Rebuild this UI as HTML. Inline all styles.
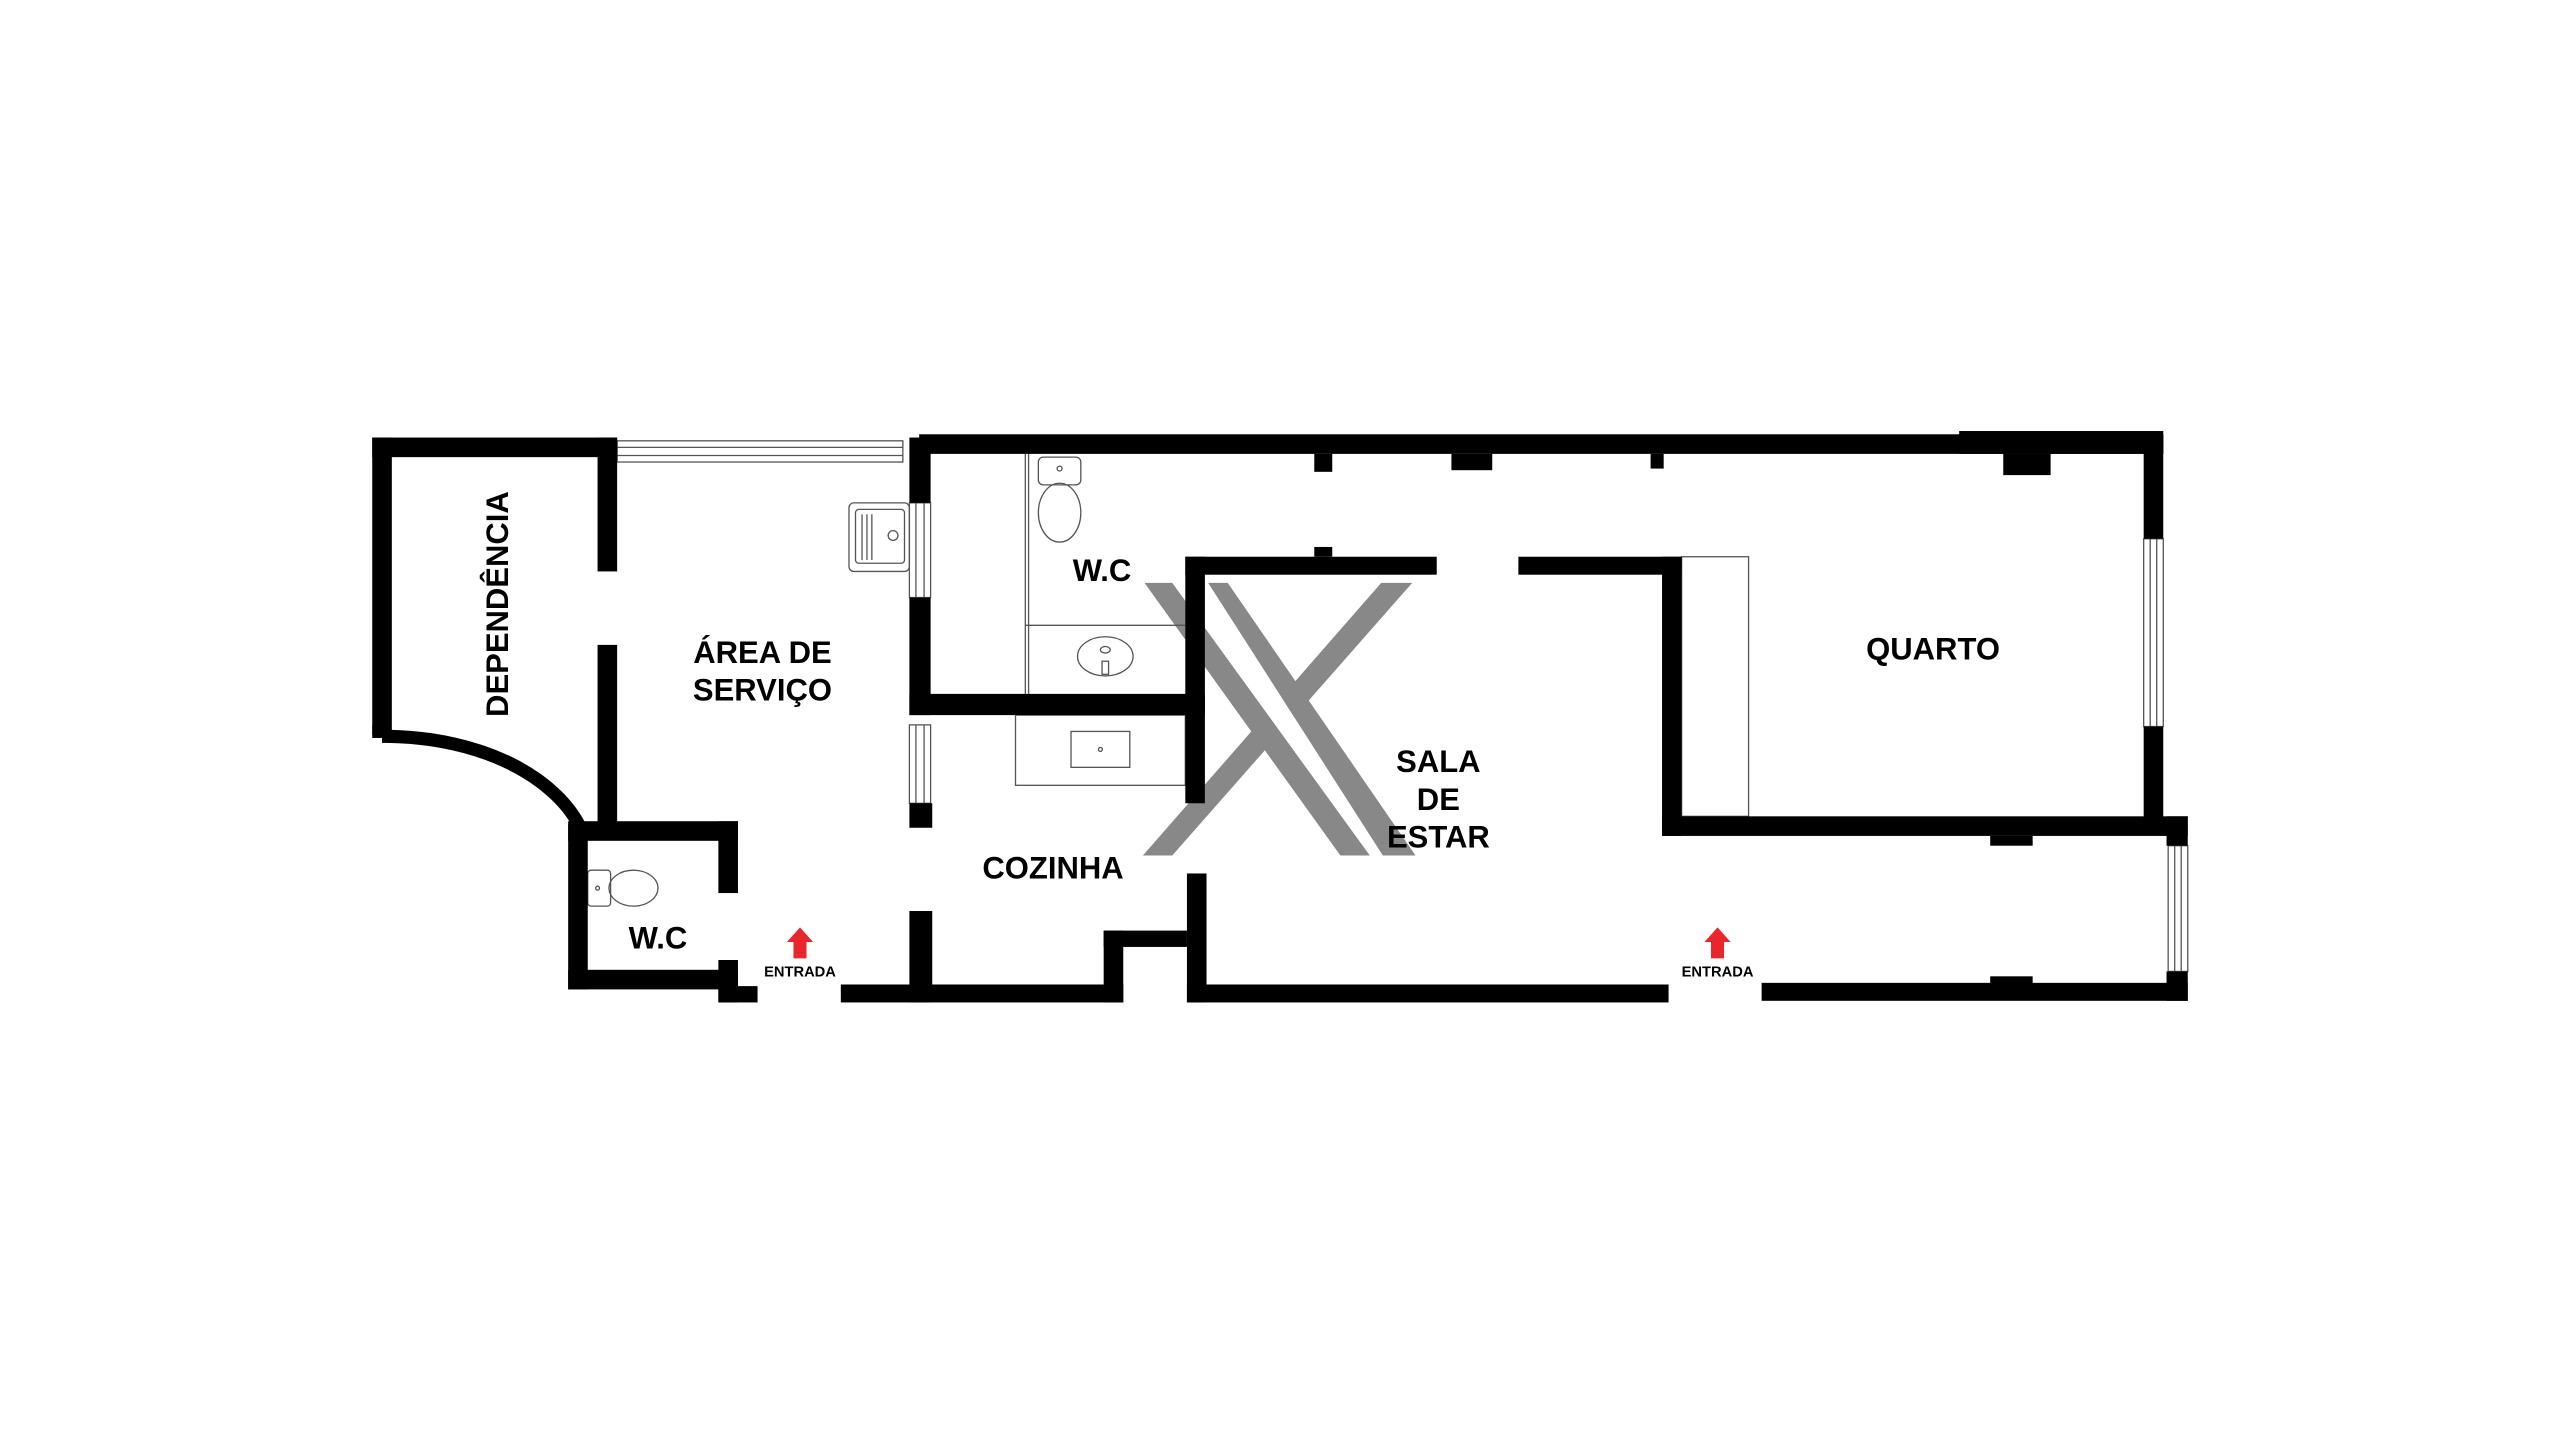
<!DOCTYPE html>
<html><head><meta charset="utf-8"><style>
html,body{margin:0;padding:0;background:#fff}
svg{display:block}
text{font-family:"Liberation Sans Narrow","Liberation Sans",sans-serif;font-weight:bold;fill:#000}
</style></head><body>
<svg width="2560" height="1440" viewBox="0 0 1568 882" xmlns="http://www.w3.org/2000/svg">
<rect width="1568" height="882" fill="#fff"/>
<!-- X watermark -->
<g fill="#888">
<polygon points="846,357 865,357 718,524 700,524"/>
<polygon points="718,357 740,357 847,524 821,524" fill="#fff"/>
<polygon points="701,357 718,357 839,524 821,524"/>
<polygon points="740,357 752,357 867,524 847,524"/>
</g>
<!-- thin fixtures -->
<g fill="none" stroke="#555" stroke-width="0.8">
<line x1="628" y1="278" x2="628" y2="425"/>
<line x1="630" y1="278" x2="630" y2="425"/>
<line x1="628" y1="383" x2="726" y2="383"/>
<rect x="622" y="438" width="104" height="43"/>
<rect x="656" y="448" width="36" height="22"/>
<circle cx="674" cy="459" r="1.2"/>
<rect x="636" y="280" width="26" height="17" rx="3"/>
<ellipse cx="649" cy="314" rx="13" ry="18"/>
<circle cx="649" cy="287" r="1.5"/>
<ellipse cx="677" cy="402" rx="17" ry="12"/>
<ellipse cx="677" cy="398" rx="3" ry="2"/>
<rect x="675" y="405" width="4" height="8"/>
<rect x="520" y="308" width="37" height="42" rx="3"/>
<rect x="524" y="312" width="30" height="33" rx="2"/>
<line x1="528" y1="315" x2="528" y2="343"/><line x1="531" y1="315" x2="531" y2="343"/><line x1="534" y1="315" x2="534" y2="343"/>
<circle cx="547" cy="328" r="3"/>
<rect x="360" y="533" width="14" height="22" rx="2"/>
<ellipse cx="388" cy="544" rx="15" ry="11"/>
<circle cx="366" cy="544" r="1.2"/>
<rect x="1030" y="341" width="41" height="159"/>
<!-- windows -->
<rect x="378" y="270" width="175" height="13"/>
<line x1="378" y1="274" x2="553" y2="274"/><line x1="378" y1="279" x2="553" y2="279"/>
<rect x="557" y="308" width="13" height="58"/>
<line x1="561" y1="308" x2="561" y2="366"/><line x1="566" y1="308" x2="566" y2="366"/>
<rect x="557" y="444" width="13" height="48"/>
<line x1="561" y1="444" x2="561" y2="492"/><line x1="566" y1="444" x2="566" y2="492"/>
<rect x="1313" y="330" width="12" height="115"/>
<line x1="1317" y1="330" x2="1317" y2="445"/><line x1="1321" y1="330" x2="1321" y2="445"/>
<rect x="1328" y="518" width="12" height="77"/>
<line x1="1332" y1="518" x2="1332" y2="595"/><line x1="1336" y1="518" x2="1336" y2="595"/>
</g>
<!-- walls -->
<g fill="#000">
<rect x="228" y="268" width="150" height="12"/>
<rect x="228" y="268" width="12" height="182"/>
<rect x="228" y="444" width="10" height="8"/>
<rect x="366" y="268" width="12" height="82"/>
<rect x="366" y="395" width="12" height="112"/>
<rect x="563" y="266" width="762" height="12"/>
<rect x="1200" y="264" width="125" height="14"/>
<rect x="805" y="278" width="11" height="11"/>
<rect x="889" y="278" width="25" height="10"/>
<rect x="1011" y="278" width="8" height="9"/>
<rect x="1227" y="278" width="29" height="13"/>
<rect x="1313" y="266" width="12" height="64"/>
<rect x="1313" y="445" width="12" height="60"/>
<rect x="557" y="268" width="13" height="40"/>
<rect x="557" y="366" width="13" height="72"/>
<rect x="557" y="425" width="181" height="13"/>
<rect x="557" y="492" width="14" height="15"/>
<rect x="726" y="341" width="12" height="151"/>
<rect x="726" y="341" width="154" height="11"/>
<rect x="805" y="335" width="11" height="6"/>
<rect x="930" y="341" width="100" height="11"/>
<rect x="1018" y="341" width="12" height="171"/>
<rect x="1018" y="500" width="322" height="12"/>
<rect x="1219" y="512" width="26" height="6"/>
<rect x="1327" y="500" width="13" height="18"/>
<rect x="1327" y="595" width="13" height="18"/>
<rect x="1079" y="602" width="261" height="11"/>
<rect x="1219" y="598" width="26" height="5"/>
<rect x="727" y="603" width="295" height="11"/>
<rect x="727" y="535" width="12" height="79"/>
<rect x="676" y="570" width="51" height="10"/>
<rect x="676" y="570" width="12" height="44"/>
<rect x="515" y="603" width="173" height="11"/>
<rect x="557" y="558" width="14" height="56"/>
<rect x="348" y="505" width="12" height="101"/>
<rect x="348" y="503" width="104" height="12"/>
<rect x="440" y="503" width="12" height="44"/>
<rect x="348" y="594" width="104" height="12"/>
<rect x="440" y="588" width="12" height="26"/>
<rect x="440" y="604" width="24" height="10"/>
</g>
<path d="M234,451 C298,451 342,478 356,508" fill="none" stroke="#000" stroke-width="8"/>
<!-- labels -->
<text x="0" y="0" font-size="19" text-anchor="middle" transform="translate(311,370) rotate(-90)">DEPENDÊNCIA</text>
<text x="467" y="406" font-size="19" text-anchor="middle">ÁREA DE</text>
<text x="467" y="429" font-size="19" text-anchor="middle">SERVIÇO</text>
<text x="675" y="356" font-size="19" text-anchor="middle">W.C</text>
<text x="403" y="581" font-size="19" text-anchor="middle">W.C</text>
<text x="645" y="538" font-size="19" text-anchor="middle">COZINHA</text>
<text x="881" y="473" font-size="19" text-anchor="middle">SALA</text>
<text x="881" y="496" font-size="19" text-anchor="middle">DE</text>
<text x="881" y="519" font-size="19" text-anchor="middle">ESTAR</text>
<text x="1184" y="404" font-size="19" text-anchor="middle">QUARTO</text>
<text x="490" y="598" font-size="9" text-anchor="middle">ENTRADA</text>
<text x="1052" y="598" font-size="9" text-anchor="middle">ENTRADA</text>
<g fill="#e8262b">
<polygon points="490,568 498,577 494,577 494,587 486,587 486,577 482,577"/>
<polygon points="1052,568 1060,577 1056,577 1056,587 1048,587 1048,577 1044,577"/>
</g>
</svg>
</body></html>
